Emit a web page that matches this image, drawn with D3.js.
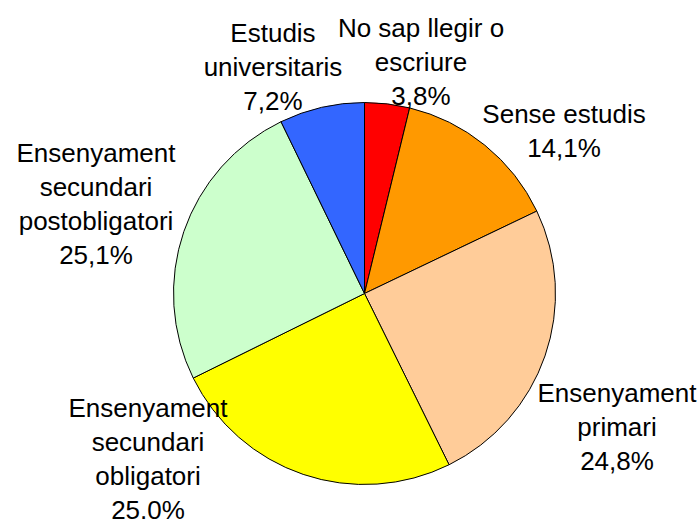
<!DOCTYPE html>
<html>
<head>
<meta charset="utf-8">
<script src="https://cdn.jsdelivr.net/npm/d3@7"></script>
<style>
  html, body { margin: 0; padding: 0; background: #fff; }
  svg { display: block; }
  text { font-family: "Liberation Sans", Arial, sans-serif; font-size: 26px; fill: #000; }
</style>
</head>
<body>
<div id="chart"></div>
<script>
// data, clockwise from 12 o'clock
const categories = [
  ["No sap llegir o", "escriure"],
  ["Sense estudis"],
  ["Ensenyament", "primari"],
  ["Ensenyament", "secundari", "obligatori"],
  ["Ensenyament", "secundari", "postobligatori"],
  ["Estudis", "universitaris"],
];
const values = [3.8, 14.1, 24.8, 25.0, 25.1, 7.2];
const pctLabels = ["3,8%", "14,1%", "24,8%", "25.0%", "25,1%", "7,2%"];
const colors = ["#FF0000", "#FF9900", "#FFCC99", "#FFFF00", "#CCFFCC", "#3366FF"];

// label placement (centre x, first baseline) as the original chart put them
const labelLayout = [
  { x: 421, y: 37 },
  { x: 564, y: 123 },
  { x: 617, y: 402 },
  { x: 148, y: 417 },
  { x: 96, y: 162 },
  { x: 273, y: 42 },
];

const width = 699,
  height = 522;
const cx = 364.5,
  cy = 293.5,
  radius = 191;
const lineHeight = 34;

const svg = d3
  .select("#chart")
  .append("svg")
  .attr("width", width)
  .attr("height", height);

const pie = d3
  .pie()
  .sort(null)
  .value((d) => d);

const arc = d3.arc().innerRadius(0).outerRadius(radius);

const arcs = pie(values);

svg
  .append("g")
  .attr("transform", "translate(" + cx + "," + cy + ")")
  .selectAll("path")
  .data(arcs)
  .enter()
  .append("path")
  .attr("d", arc)
  .attr("fill", (d, i) => colors[i])
  .attr("stroke", "#000")
  .attr("stroke-width", 1)
  .attr("stroke-linejoin", "round");

// labels on top of the pie
const labels = svg
  .append("g")
  .selectAll("text")
  .data(arcs)
  .enter()
  .append("text")
  .attr("text-anchor", "middle")
  .attr("x", (d, i) => labelLayout[i].x)
  .attr("y", (d, i) => labelLayout[i].y);

labels.each(function (d, i) {
  const lines = categories[i].concat([pctLabels[i]]);
  d3.select(this)
    .selectAll("tspan")
    .data(lines)
    .enter()
    .append("tspan")
    .attr("x", labelLayout[i].x)
    .attr("dy", (l, j) => (j === 0 ? 0 : lineHeight))
    .text((l) => l);
});
</script>
</body>
</html>
